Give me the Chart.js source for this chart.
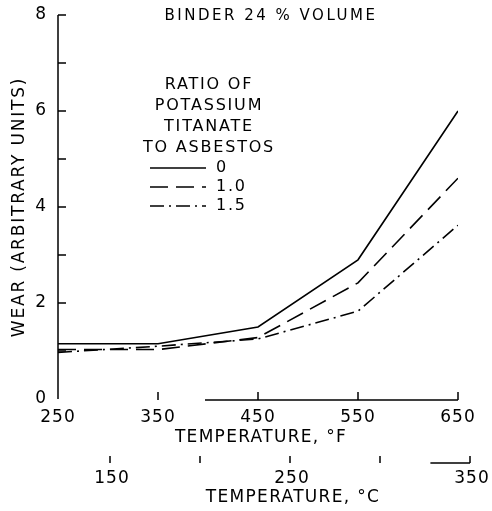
<!DOCTYPE html>
<html>
<head>
<meta charset="utf-8">
<script src="https://cdn.jsdelivr.net/npm/chart.js@4.4.1/dist/chart.umd.min.js"></script>
<style>
  html, body { margin: 0; padding: 0; background: #fff; }
  #wrap { width: 492px; height: 511px; position: relative; }
</style>
</head>
<body>
<div id="wrap"><canvas id="wearChart"></canvas></div>
<script>
// Wear vs temperature, binder 24 % volume
const tempF = [250, 350, 450, 550, 650];
const wearRatio0 = [1.15, 1.15, 1.5, 2.9, 6.0];
const wearRatio10 = [1.03, 1.03, 1.28, 2.42, 4.6];
const wearRatio15 = [0.97, 1.1, 1.25, 1.83, 3.62];
const seriesNames = ['0', '1.0', '1.5'];
const yTickValues = [0, 2, 4, 6, 8];
const xTickValues = [250, 350, 450, 550, 650];
const celsiusTicks = [150, 200, 250, 300, 350];
const celsiusLabels = [150, 250, 350];
const legendTitle = ['RATIO OF', 'POTASSIUM', 'TITANATE', 'TO ASBESTOS'];

const FONT = '"DejaVu Sans", sans-serif';
const dashes = [[], [18, 8], [14, 5, 2, 5]];

function toPoints(vals) {
  return tempF.map((t, i) => ({ x: t, y: vals[i] }));
}
const cToF = c => c * 9 / 5 + 32;

// wider lettering, like the typed original
const spacingPlugin = {
  id: 'spacing',
  beforeDraw(chart) { chart.ctx.letterSpacing = '1px'; }
};

// draws axes, inside ticks, celsius scale and all free text
const decorPlugin = {
  id: 'decor',
  afterDraw(chart) {
    const ctx = chart.ctx;
    const xs = chart.scales.x, ys = chart.scales.y;
    const left = chart.chartArea.left, bottom = chart.chartArea.bottom;
    ctx.save();
    ctx.strokeStyle = '#000';
    ctx.fillStyle = '#000';
    ctx.lineWidth = 1.5;

    // y axis + inside ticks every unit
    ctx.beginPath();
    ctx.moveTo(left, ys.getPixelForValue(8));
    ctx.lineTo(left, bottom);
    for (let v = 1; v <= 8; v++) {
      const py = ys.getPixelForValue(v);
      ctx.moveTo(left, py);
      ctx.lineTo(left + 8, py);
    }
    ctx.stroke();

    // x axis (only partly printed in the original) + upward ticks
    ctx.beginPath();
    ctx.moveTo(xs.getPixelForValue(397), bottom + 1);
    ctx.lineTo(xs.getPixelForValue(650), bottom + 1);
    xTickValues.slice(1).forEach(v => {
      const px = xs.getPixelForValue(v);
      ctx.moveTo(px, bottom + 1);
      ctx.lineTo(px, bottom - 7);
    });
    ctx.stroke();

    // celsius scale
    const cy = bottom + 64;
    ctx.beginPath();
    celsiusTicks.forEach(c => {
      const px = xs.getPixelForValue(cToF(c));
      ctx.moveTo(px, cy);
      ctx.lineTo(px, cy - 7);
    });
    ctx.moveTo(xs.getPixelForValue(cToF(328)), cy);
    ctx.lineTo(xs.getPixelForValue(cToF(350)), cy);
    ctx.stroke();

    ctx.textAlign = 'center';
    ctx.textBaseline = 'middle';
    ctx.letterSpacing = '1px';
    ctx.font = '17px ' + FONT;
    celsiusLabels.forEach(c => {
      ctx.fillText(String(c), xs.getPixelForValue(cToF(c)) + 2, cy + 16);
    });

    // axis titles
    ctx.letterSpacing = '1.3px';
    ctx.fillText('TEMPERATURE, \u00B0F', 261, 438);
    ctx.fillText('TEMPERATURE, \u00B0C', 293, 498);
    ctx.save();
    ctx.translate(20, 207);
    ctx.rotate(-Math.PI / 2);
    ctx.letterSpacing = '1.8px';
    ctx.fillText('WEAR (ARBITRARY UNITS)', 0, 0);
    ctx.restore();

    // chart title
    ctx.font = '15px ' + FONT;
    ctx.letterSpacing = '2.5px';
    ctx.fillText('BINDER 24 % VOLUME', 271, 16);

    // legend block
    ctx.font = '16px ' + FONT;
    ctx.letterSpacing = '1.8px';
    legendTitle.forEach((t, i) => ctx.fillText(t, 209, 85 + i * 21));
    ctx.textAlign = 'left';
    seriesNames.forEach((name, i) => {
      const ly = 168 + i * 19;
      ctx.setLineDash(dashes[i]);
      ctx.lineWidth = 1.3;
      ctx.beginPath();
      ctx.moveTo(150, ly);
      ctx.lineTo(206, ly);
      ctx.stroke();
      ctx.setLineDash([]);
      ctx.fillText(name, 216, ly);
    });
    ctx.restore();
  }
};

const mkSet = (vals, i) => ({
  label: seriesNames[i],
  data: toPoints(vals),
  borderColor: '#000',
  borderWidth: 1.6,
  borderDash: dashes[i],
  pointRadius: 0,
  tension: 0,
  fill: false
});

new Chart(document.getElementById('wearChart'), {
  type: 'line',
  data: {
    datasets: [mkSet(wearRatio0, 0), mkSet(wearRatio10, 1), mkSet(wearRatio15, 2)]
  },
  options: {
    responsive: true,
    maintainAspectRatio: false,
    animation: false,
    layout: { padding: { top: 15, right: 34, left: 0, bottom: 0 } },
    plugins: { legend: { display: false }, tooltip: { enabled: false } },
    scales: {
      x: {
        type: 'linear',
        min: 250,
        max: 650,
        afterBuildTicks: s => { s.ticks = xTickValues.map(v => ({ value: v })); },
        afterFit: s => { s.height = 112; },
        grid: { display: false },
        border: { display: false },
        ticks: { color: '#000', font: { family: FONT, size: 17 }, padding: 0, maxRotation: 0 }
      },
      y: {
        min: 0,
        max: 8,
        afterBuildTicks: s => { s.ticks = yTickValues.map(v => ({ value: v })); },
        afterFit: s => { s.width = 58; },
        grid: { display: false },
        border: { display: false },
        ticks: { color: '#000', font: { family: FONT, size: 17 }, padding: 3 }
      }
    }
  },
  plugins: [spacingPlugin, decorPlugin]
});
</script>
</body>
</html>
